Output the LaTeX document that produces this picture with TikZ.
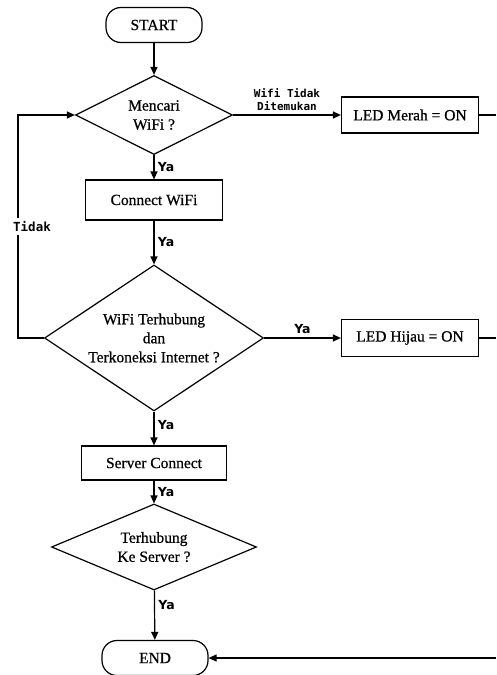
\documentclass[tikz,border=0pt]{standalone}
\usepackage{fontspec}
\setmainfont{Liberation Serif}[BoldFont=Liberation Serif, BoldFeatures={FakeBold=0.7}]
\newfontfamily\yafont{DejaVu Sans}
\newfontfamily\codefont{DejaVu Sans Mono}
\usetikzlibrary{shapes.geometric,arrows.meta}

\tikzstyle{startstop} = [draw, line width=1.2pt, rectangle, rounded corners=15pt,
    minimum width=96pt, minimum height=35pt, font=\bfseries\fontsize{15.5}{19}\selectfont]
\tikzstyle{process} = [draw, line width=1.2pt, rectangle,
    font=\bfseries\fontsize{15.5}{19}\selectfont]
\tikzstyle{decision} = [draw, line width=1.2pt, diamond, inner sep=0pt,
    align=center, font=\bfseries\fontsize{15.5}{19}\selectfont]
\tikzstyle{arrow} = [line width=1.2pt, -{Triangle[length=8pt,width=7pt]}]
\tikzstyle{ya} = [font=\yafont\bfseries\fontsize{12.5}{14}\selectfont]
\tikzstyle{note} = [font=\codefont\bfseries\fontsize{11}{13}\selectfont, align=center]

\begin{document}
\begin{tikzpicture}[x=1pt, y=-1pt]
\useasboundingbox (0,0) rectangle (496,675);

\node[startstop] (start) at (154,25) {START};
\node[decision, minimum width=157pt, minimum height=79pt, shape aspect=2] (cari) at (154,115) {Mencari\\WiFi ?};
\node[process, minimum width=137pt, minimum height=40pt] (connect) at (154,200) {Connect WiFi};
\node[decision, minimum width=219pt, minimum height=146pt, shape aspect=1.5] (cek) at (154,338) {WiFi Terhubung\\dan\\Terkoneksi Internet ?};
\node[process, minimum width=145pt, minimum height=34pt] (server) at (154,463) {Server Connect};
\node[decision, minimum width=205pt, minimum height=86pt, shape aspect=2.4] (hub) at (154,547) {Terhubung\\Ke Server ?};
\node[startstop, minimum width=106pt] (end) at (155,658) {END};
\node[process, minimum width=137pt, minimum height=36pt] (merah) at (410,115) {LED Merah = ON};
\node[process, minimum width=137pt, minimum height=37pt] (hijau) at (410,338) {LED Hijau = ON};

% ujung garis di tepi kanan
\coordinate (merahout) at (496,115);
\coordinate (hijauout) at (496,338);
\coordinate (endin) at (496,658);
\coordinate (kiri) at (18,338);
\coordinate (kiriatas) at (18,115);

\draw[arrow] (start) -- (cari);
\draw[arrow] (cari) -- node[ya, right] {Ya} (connect);
\draw[arrow] (connect) -- node[ya, right] {Ya} (cek);
\draw[arrow] (cek) -- node[ya, right, pos=0.4] {Ya} (server);
\draw[arrow] (server) -- node[ya, right] {Ya} (hub);
\draw[arrow] (hub) -- node[ya, right, pos=0.3] {Ya} (end);

\draw[arrow] (cari) -- node[note, above] {Wifi Tidak\\Ditemukan} (merah);
\draw[arrow] (cek) -- node[ya, above] {Ya} (hijau);
\draw[line width=1.2pt] (merah) -- (merahout);
\draw[line width=1.2pt] (hijau) -- (hijauout);
\draw[arrow] (endin) -- (end);

\draw[arrow] (cek.west) -- (kiri) -- node[note, fill=white, xshift=14pt, font=\codefont\bfseries\fontsize{12.5}{14}\selectfont] {Tidak} (kiriatas) -- (cari.west);
\end{tikzpicture}
\end{document}
